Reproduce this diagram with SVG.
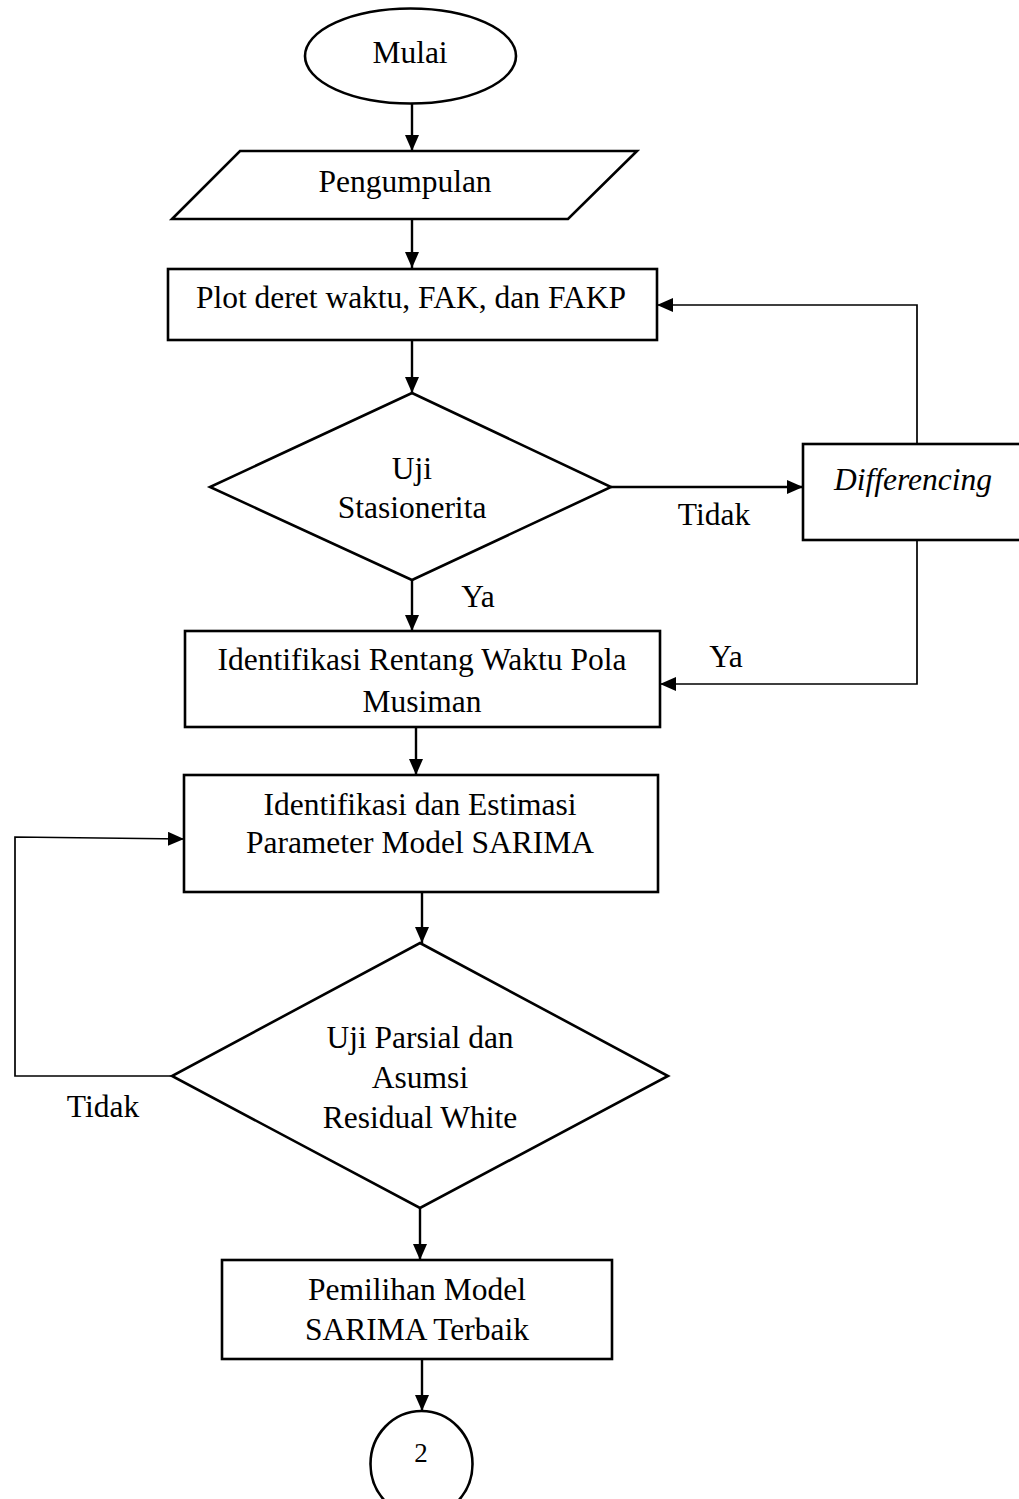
<svg xmlns="http://www.w3.org/2000/svg" width="1019" height="1499" viewBox="0 0 1019 1499">
<style>
.shape{fill:#fff;stroke:#000;stroke-width:2.6}
.t{font-family:"Liberation Serif","Times New Roman",serif;font-size:31.5px;fill:#000;text-anchor:middle}
.it{font-style:italic}
.c{fill:none;stroke:#000;stroke-width:2.4}
.thin{stroke-width:1.7}
.small{font-size:27px}
</style>
<defs>
<marker id="ah" markerUnits="userSpaceOnUse" markerWidth="16" markerHeight="14" refX="16" refY="7" orient="auto">
<path d="M0,0 L16,7 L0,14 z" fill="#000"/>
</marker>
</defs>
<rect width="1019" height="1499" fill="#fff"/>
<g id="connectors">
<path class="c" d="M412,104 V151" marker-end="url(#ah)"/>
<path class="c" d="M412,219 V268" marker-end="url(#ah)"/>
<path class="c" d="M412,340 V393" marker-end="url(#ah)"/>
<path class="c" d="M611,487 H803" marker-end="url(#ah)"/>
<path class="c thin" d="M917,444 V305 H657" marker-end="url(#ah)"/>
<path class="c" d="M412,580 V631" marker-end="url(#ah)"/>
<path class="c thin" d="M917,540 V684 H660" marker-end="url(#ah)"/>
<path class="c" d="M416,727 V775" marker-end="url(#ah)"/>
<path class="c" d="M422,892 V943" marker-end="url(#ah)"/>
<path class="c thin" d="M172,1076 H15 V837 L184,839" marker-end="url(#ah)"/>
<path class="c" d="M420,1208 V1260" marker-end="url(#ah)"/>
<path class="c" d="M422,1359 V1411" marker-end="url(#ah)"/>
<text class="t" x="478" y="607">Ya</text>
<text class="t" x="714" y="525">Tidak</text>
<text class="t" x="726" y="667">Ya</text>
<text class="t" x="103" y="1117">Tidak</text>
</g>
<g id="mulai">
<ellipse class="shape" cx="410.5" cy="56" rx="105.5" ry="47.5"/>
<text class="t" x="410" y="63">Mulai</text>
</g>
<g id="pengumpulan">
<polygon class="shape" points="240,151 637,151 568,219 172,219"/>
<text class="t" x="405" y="192">Pengumpulan</text>
</g>
<g id="plot">
<rect class="shape" x="168" y="269" width="489" height="71"/>
<text class="t" x="411" y="308">Plot deret waktu, FAK, dan FAKP</text>
</g>
<g id="uji-stasioneritas">
<polygon class="shape" points="412,393 611,487 412,580 210,487"/>
<text class="t" x="412" y="479">Uji</text>
<text class="t" x="412" y="518">Stasionerita</text>
</g>
<g id="differencing">
<rect class="shape" x="803" y="444" width="220" height="96"/>
<text class="t it" x="913" y="490">Differencing</text>
</g>
<g id="identifikasi-rentang">
<rect class="shape" x="185" y="631" width="475" height="96"/>
<text class="t" x="422" y="670">Identifikasi Rentang Waktu Pola</text>
<text class="t" x="422" y="712">Musiman</text>
</g>
<g id="identifikasi-estimasi">
<rect class="shape" x="184" y="775" width="474" height="117"/>
<text class="t" x="420" y="815">Identifikasi dan Estimasi</text>
<text class="t" x="420" y="853">Parameter Model SARIMA</text>
</g>
<g id="uji-parsial">
<polygon class="shape" points="420,943 668,1076 420,1208 172,1076"/>
<text class="t" x="420" y="1048">Uji Parsial dan</text>
<text class="t" x="420" y="1088">Asumsi</text>
<text class="t" x="420" y="1128">Residual White</text>
</g>
<g id="pemilihan">
<rect class="shape" x="222" y="1260" width="390" height="99"/>
<text class="t" x="417" y="1300">Pemilihan Model</text>
<text class="t" x="417" y="1340">SARIMA Terbaik</text>
</g>
<g id="konektor-2">
<ellipse class="shape" cx="421.5" cy="1464" rx="51" ry="53"/>
<text class="t small" x="421" y="1462">2</text>
</g>
</svg>
